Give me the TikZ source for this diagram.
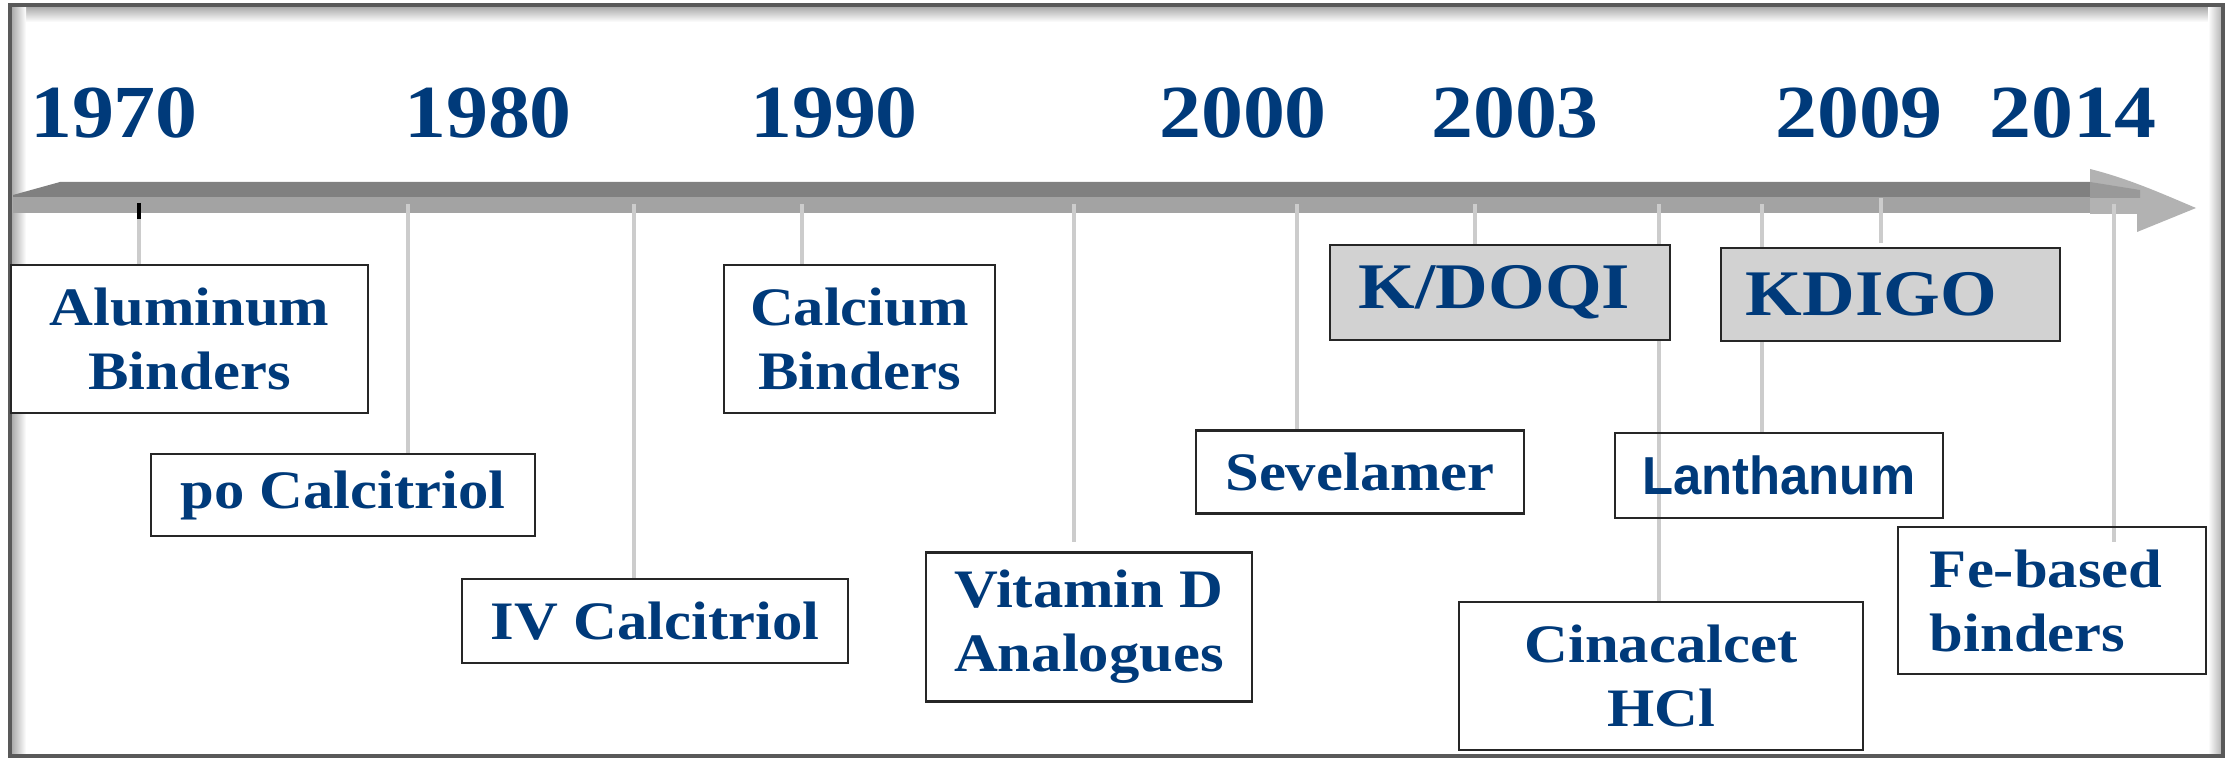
\documentclass[tikz,border=0pt]{standalone}
\usepackage{fontspec}
\setmainfont[FakeStretch=1.12]{Liberation Serif}
\newfontfamily\lanfont[FakeStretch=0.95]{Liberation Sans}
\definecolor{navy}{RGB}{0,58,122}
\definecolor{tickgray}{RGB}{204,204,204}
\definecolor{bardark}{RGB}{128,128,128}
\definecolor{barlight}{RGB}{163,163,163}
\definecolor{headgray}{RGB}{178,178,178}
\definecolor{boxgray}{RGB}{210,210,210}
\pgfdeclarelayer{bottom}
\pgfdeclarelayer{links}
\pgfsetlayers{bottom,links,main}
\begin{document}
\begin{tikzpicture}[x=0.01cm,y=-0.01cm,
  year/.style={font=\fontsize{21.3}{24}\selectfont\bfseries, text=navy, anchor=base, inner sep=0},
  evbox/.style={draw=black!85, line width=0.75pt, fill=white, text=navy,
    font=\fontsize{15.4}{18.2}\selectfont\bfseries, align=center, inner sep=0, outer sep=0},
  guidebox/.style={evbox, fill=boxgray, font=\fontsize{18.5}{20}\selectfont\bfseries, align=left},
  guide/.style={draw=tickgray, line width=1.15pt},
]
\useasboundingbox (0,0) rectangle (2231,758);

\begin{pgfonlayer}{bottom}
% frame with inner shadow
\fill[white] (10,5) rectangle (2223,756);
\shade[top color=black!35, bottom color=white] (11,6) rectangle (2222,22);
\shade[left color=black!35, right color=white] (11,6) rectangle (26,755);
\shade[left color=white, right color=black!30] (2208,6) rectangle (2222,755);
\draw[black!65, line width=0.9pt] (10,5) rectangle (2223,756);
% timeline bar
\fill[bardark] (13,195) -- (60,182) -- (2095,182) -- (2095,198) -- (13,198) -- cycle;
\fill[barlight] (13,197) -- (2095,197) -- (2095,213) -- (13,213) -- cycle;
\fill[headgray] (2090,169) .. controls (2130,179) and (2165,195) .. (2196,208)
  -- (2137,232) -- (2137,214) -- (2090,214) -- cycle;
\fill[black!40] (2090,182) -- (2140,190) -- (2140,198) -- (2090,198) -- cycle;
\end{pgfonlayer}

% years
\node[year] (y1970) at (114,138) {1970};
\node[year] (y1980) at (488,138) {1980};
\node[year] (y1990) at (834,138) {1990};
\node[year] (y2000) at (1243,138) {2000};
\node[year] (y2003) at (1515,138) {2003};
\node[year] (y2009) at (1859,138) {2009};
\node[year] (y2014) at (2073,138) {2014};

% tick anchors on the bar
\coordinate (talu) at (139,203);
\coordinate (taluend) at (139,219);
\coordinate (tpo) at (408,204);
\coordinate (tiv) at (634,204);
\coordinate (tcalc) at (802,204);
\coordinate (tvitd) at (1074,204);
\coordinate (tsev) at (1297,204);
\coordinate (tkdoqi) at (1475,204);
\coordinate (tcin) at (1659,204);
\coordinate (tlan) at (1762,204);
\coordinate (tkdigo) at (1881,198);
\coordinate (tfe) at (2114,204);

% boxes
\node[evbox, minimum width=3.57cm, minimum height=1.48cm] (alu) at (189.5,339) {Aluminum\\Binders};
\node[evbox, minimum width=3.84cm, minimum height=0.82cm] (po) at (343,495) {po Calcitriol};
\node[evbox, minimum width=3.86cm, minimum height=0.84cm] (iv) at (655,621) {IV Calcitriol};
\node[evbox, minimum width=2.71cm, minimum height=1.48cm] (calc) at (859.5,339) {Calcium\\Binders};
\node[evbox, minimum width=3.26cm, minimum height=1.49cm] (vitd) at (1089,627) {Vitamin D\\Analogues};
\node[evbox, minimum width=3.28cm, minimum height=0.83cm] (sev) at (1360,472) {Sevelamer};
\node[guidebox, inner xsep=0.29cm, text width=2.82cm, minimum height=0.95cm] (kdoqi) at (1500,292.5) {K/DOQI};
\node[guidebox, inner xsep=0.25cm, text width=2.89cm, minimum height=0.93cm] (kdigo) at (1890.5,294.5) {KDIGO};
\node[evbox, fill=none, font=\lanfont\fontsize{15.2}{18}\selectfont\bfseries, minimum width=3.28cm, minimum height=0.85cm] (lan) at (1779,475.5) {Lanthanum};
\node[evbox, minimum width=4.04cm, minimum height=1.48cm] (cin) at (1661,676) {Cinacalcet\\HCl};
\node[evbox, fill=none, align=left, inner xsep=0.32cm, text width=2.44cm, minimum height=1.47cm] (fe) at (2052,600.5) {Fe-based\\binders};

% connectors, behind the boxes
\begin{pgfonlayer}{links}
\draw[black, line width=1pt] (talu) -- (taluend);
\draw[guide] (taluend) -- (taluend |- alu.north);
\draw[guide] (tpo) -- (tpo |- po.north);
\draw[guide] (tiv) -- (tiv |- iv.north);
\draw[guide] (tcalc) -- (tcalc |- calc.north);
\draw[guide] (tvitd) -- ([yshift=0.1cm]tvitd |- vitd.north);
\draw[guide] (tsev) -- (tsev |- sev.north);
\draw[guide] (tkdoqi) -- (tkdoqi |- kdoqi.north);
\draw[guide] (tcin) -- (tcin |- cin.north);
\draw[guide] (tlan) -- (tlan |- lan.north);
\draw[guide] (tkdigo) -- ([yshift=0.05cm]tkdigo |- kdigo.north);
\draw[guide] (tfe) -- ([yshift=-0.15cm]tfe |- fe.north);
\end{pgfonlayer}
\end{tikzpicture}
\end{document}
